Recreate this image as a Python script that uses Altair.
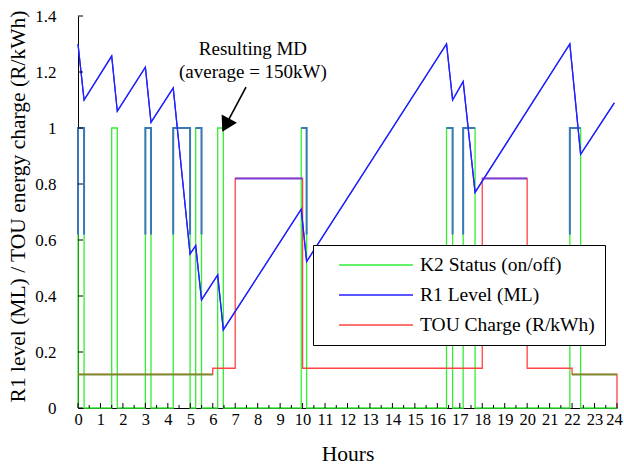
import altair as alt
import pandas as pd

# ---------------- data ----------------
# K2 pump status pulses (hours switched on / off)
K2_ON = [0.0, 1.50, 3.00, 4.24, 5.24, 6.22, 9.94, 16.41, 17.15, 21.90]
K2_OFF = [0.27, 1.75, 3.25, 4.99, 5.50, 6.47, 10.18, 16.68, 17.68, 22.38]
# edges of each pulse drawn in steel blue between STEEL_LOW and 1
STEEL_LEFT = [1, 0, 1, 1, 0, 0, 0, 0, 1, 1]
STEEL_RIGHT = [1, 0, 1, 1, 1, 0, 1, 1, 0, 0]
STEEL_LOW = 0.62

# R1 reservoir level (ML)
R1_H = [0.0, 0.27, 1.50, 1.75, 3.00, 3.25, 4.24, 4.99, 5.24, 5.50, 6.22, 6.47,
        9.94, 10.18, 16.41, 16.68, 17.15, 17.68, 21.90, 22.38, 23.88]
R1_V = [1.30, 1.10, 1.257, 1.06, 1.217, 1.02, 1.143, 0.55, 0.58, 0.386, 0.475, 0.279,
        0.71, 0.523, 1.30, 1.10, 1.166, 0.77, 1.30, 0.906, 1.09]

# TOU energy charge (R/kWh)
TOU_H = [0, 6, 6, 7, 7, 10, 10, 18, 18, 20, 20, 22, 22, 24, 24]
TOU_V = [0.12, 0.12, 0.142, 0.142, 0.82, 0.82, 0.142, 0.142, 0.82, 0.82, 0.142, 0.142, 0.12, 0.12, 0.0]

SERIES = ["K2 Status (on/off)", "R1 Level (ML)", "TOU Charge (R/kWh)"]
COLORS = ["#33ee33", "#2222ff", "#ff4444"]

X_MAJOR = list(range(25))
X_MINOR = [i + 0.5 for i in range(24)]
Y_TICKS = [0, 0.2, 0.4, 0.6, 0.8, 1.0, 1.2, 1.4]

ANNOT_TEXT = ["Resulting MD", "(average = 150kW)"]
ANNOT_H = [7.79, 7.79]
ANNOT_V = [1.282, 1.2]
ARROW_FROM = (7.48, 1.146)
ARROW_TIP = (6.58, 1.010)
ARROW_ANGLE = 208

FONT = "Liberation Serif"

# ---------------- tables ----------------
rows = []
k2_pts = [(0.0, 0.0)]
for on, off in zip(K2_ON, K2_OFF):
    k2_pts += [(on, 0.0), (on, 1.0), (off, 1.0), (off, 0.0)]
k2_pts.append((24.0, 0.0))
for k, (h, v) in enumerate(k2_pts):
    rows.append({"h": h, "v": v, "idx": k, "series": SERIES[0]})
for k, (h, v) in enumerate(zip(TOU_H, TOU_V)):
    rows.append({"h": h, "v": v, "idx": k, "series": SERIES[2]})
for k, (h, v) in enumerate(zip(R1_H, R1_V)):
    rows.append({"h": h, "v": v, "idx": k, "series": SERIES[1]})
main = pd.DataFrame(rows)

r1 = pd.DataFrame({"h": R1_H, "v": R1_V})
r1["idx"] = range(len(r1))

steel_rows = []
for i, (on, off) in enumerate(zip(K2_ON, K2_OFF)):
    if not (STEEL_LEFT[i] or STEEL_RIGHT[i]):
        continue
    pts = []
    if STEEL_LEFT[i]:
        pts.append((on, STEEL_LOW))
    pts += [(on, 1.0), (off, 1.0)]
    if STEEL_RIGHT[i]:
        pts.append((off, STEEL_LOW))
    for k, (h, v) in enumerate(pts):
        steel_rows.append({"g": i, "k": k, "h": h, "v": v})
steel = pd.DataFrame(steel_rows)

seg_rows = []
for j in range(len(TOU_H) - 1):
    if TOU_V[j] == TOU_V[j + 1]:
        if TOU_V[j] < 0.13:
            seg_rows.append({"h": TOU_H[j], "h2": TOU_H[j + 1], "v": TOU_V[j], "c": "#7d8a2e"})
        elif TOU_V[j] > 0.5:
            seg_rows.append({"h": TOU_H[j], "h2": TOU_H[j + 1], "v": TOU_V[j], "c": "#7a3cd6"})
segs = pd.DataFrame(seg_rows)

annot = pd.DataFrame({"h": ANNOT_H, "v": ANNOT_V, "t": ANNOT_TEXT})
arrow = pd.DataFrame({"h": [ARROW_FROM[0]], "v": [ARROW_FROM[1]],
                      "h2": [ARROW_TIP[0]], "v2": [ARROW_TIP[1]]})
head = pd.DataFrame({"h": [ARROW_TIP[0]], "v": [ARROW_TIP[1]]})

# ---------------- scales / axes ----------------
xs = alt.Scale(domain=[0, 24], nice=False, zero=False)
ys = alt.Scale(domain=[0, 1.4], nice=False)
cs = alt.Scale(domain=SERIES, range=COLORS)

legend = alt.Legend(
    orient="none", legendX=235, legendY=229, title=None,
    strokeColor="black", fillColor="white", padding=10,
    symbolType="stroke", symbolSize=5476, symbolStrokeWidth=1.5,
    symbolOffset=15, labelOffset=6, labelFont=FONT, labelFontSize=19.5,
    labelColor="black", clipHeight=20, rowPadding=10, labelLimit=400,
    labelExpr="datum.label + '\u2002'",
)

x_axis = alt.Axis(values=X_MAJOR, format="d", labelPadding=3, labelFlush=False,
                  labelOverlap=False, labelFont=FONT, labelFontSize=16.5,
                  labelColor="black",
                  labelOffset={"condition": {"test": "datum.value == 24", "value": -3}, "value": 0},
                  title="Hours", titleFont=FONT,
                  titleFontSize=21.5, titleFontWeight="normal", titleY=46,
                  titleBaseline="middle", ticks=False, grid=False,
                  domainColor="black")
y_axis = alt.Axis(values=Y_TICKS, format=".1~f", labelPadding=22,
                  labelFont=FONT, labelFontSize=17, labelColor="black",
                  title="R1 level (ML) / TOU energy charge (R/kWh)",
                  titleFont=FONT, titleFontSize=21.5, titleFontWeight="normal",
                  titleX=-60, titleY=190, titleAlign="center",
                  titleBaseline="middle", titleAngle=270, ticks=False,
                  grid=False, domainColor="black")

X = alt.X("h:Q", scale=xs, axis=x_axis)
Y = alt.Y("v:Q", scale=ys, axis=y_axis)
X2 = alt.X2("h2:Q")

main_layer = alt.Chart(main).mark_line(strokeWidth=1.3).encode(
    x=X, y=Y, order="idx:Q",
    color=alt.Color("series:N", scale=cs, legend=legend, sort=SERIES))

steel_layer = alt.Chart(steel).mark_line(strokeWidth=2, color="#3a78b8").encode(
    x=X, y=Y, detail="g:N", order="k:Q")

seg_layer = alt.Chart(segs).mark_rule(strokeWidth=2).encode(
    x=X, x2=X2, y=Y, color=alt.Color("c:N", scale=None))

r1_layer = alt.Chart(r1).mark_line(strokeWidth=1.2, color=COLORS[1]).encode(
    x=X, y=Y, order="idx:Q")

xtick_major = alt.Chart(pd.DataFrame({"h": X_MAJOR})).mark_rule(color="black", strokeWidth=1).encode(
    x=X, y=alt.value(392), y2=alt.value(387))
xtick_minor = alt.Chart(pd.DataFrame({"h": X_MINOR})).mark_rule(color="black", strokeWidth=1).encode(
    x=X, y=alt.value(392), y2=alt.value(389))
ytick = alt.Chart(pd.DataFrame({"v": Y_TICKS})).mark_rule(color="black", strokeWidth=1).encode(
    y=Y, x=alt.value(0), x2=alt.value(5))

annot_layer = alt.Chart(annot).mark_text(font=FONT, fontSize=19, color="black",
                                         align="center", baseline="middle").encode(
    x=X, y=Y, text="t:N")
arrow_layer = alt.Chart(arrow).mark_rule(color="black", strokeWidth=1.6).encode(
    x=X, y=Y, x2=X2, y2=alt.Y2("v2:Q"))
head_layer = alt.Chart(head).mark_point(shape="triangle-up", size=300, filled=True,
                                        color="black", opacity=1,
                                        angle=ARROW_ANGLE).encode(x=X, y=Y)

chart = alt.layer(
    main_layer, steel_layer, seg_layer, r1_layer,
    xtick_major, xtick_minor, ytick, annot_layer, arrow_layer, head_layer,
).properties(
    width=539, height=392,
    padding={"left": 78, "top": 16, "right": 7, "bottom": 56},
    autosize=alt.AutoSizeParams(type="none"),
    background="white",
).configure_axis(
    labelFont=FONT, titleFont=FONT,
).configure_legend(
    labelFont=FONT,
).configure_view(stroke=None)

chart.save("out.html", embed_options={"renderer": "svg", "actions": False})
